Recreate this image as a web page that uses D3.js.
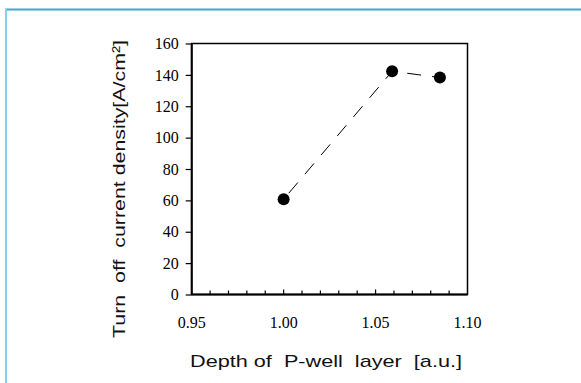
<!DOCTYPE html>
<html><head><meta charset="utf-8">
<script src="https://cdn.jsdelivr.net/npm/d3@7"></script>
<style>body{margin:0;background:#fff}svg{display:block}</style>
</head><body>
<script>
const depth = [1.00, 1.059, 1.085];
const current = [60.7, 142.3, 138.3];
const xTickValues = [0.95, 1.00, 1.05, 1.10];
const xTickLabels = ["0.95", "1.00", "1.05", "1.10"];
const yTickValues = [0, 20, 40, 60, 80, 100, 120, 140, 160];
const xTitle = "Depth of\u00a0\u00a0P-well\u00a0\u00a0layer\u00a0\u00a0[a.u.]";
const yTitle = "Turn\u00a0\u00a0off\u00a0\u00a0current density[A/cm\u00b2]";

const W = 581, H = 383;
const svg = d3.select("body").append("svg").attr("width", W).attr("height", H);

// frame border
svg.append("line").attr("x1",5).attr("x2",581).attr("y1",9.5).attr("y2",9.5).attr("stroke","#3aa9cc").attr("stroke-width",2);
svg.append("line").attr("x1",6).attr("x2",6).attr("y1",9).attr("y2",383).attr("stroke","#80d3ea").attr("stroke-width",2);

const x = d3.scaleLinear().domain([0.95, 1.10]).range([191.7, 467.5]);
const y = d3.scaleLinear().domain([0, 160]).range([294.5, 43.5]);

const g = svg.append("g");
// plot frame
g.append("rect").attr("x", x(0.95)).attr("y", y(160)).attr("width", x(1.10)-x(0.95)).attr("height", y(0)-y(160))
  .attr("fill","none").attr("stroke","#000").attr("stroke-width",1.5);
g.append("line").attr("x1",x(0.95)).attr("x2",x(0.95)).attr("y1",y(160)).attr("y2",y(0)).attr("stroke","#000").attr("stroke-width",2);
g.append("line").attr("x1",x(0.95)).attr("x2",x(1.10)).attr("y1",y(0)).attr("y2",y(0)).attr("stroke","#000").attr("stroke-width",2);

// y axis
const yAxis = d3.axisLeft(y).tickValues(yTickValues).tickSize(6).tickPadding(7).tickFormat(d3.format("d"));
const ya = g.append("g").attr("transform",`translate(${x(0.95)},0)`).call(yAxis);
ya.select(".domain").remove();
ya.selectAll("line").attr("stroke","#000").attr("stroke-width",1.2);
ya.selectAll("text").attr("font-family","'Liberation Serif', 'Times New Roman', serif").attr("font-size",16).attr("fill","#000");

// x axis: minor inward ticks
const minor = d3.range(0.96, 1.0999, 0.01);
g.selectAll(".xm").data(minor).join("line")
  .attr("x1", d=>x(d)).attr("x2", d=>x(d))
  .attr("y1", y(0)).attr("y2", d => y(0) - (Math.abs(Math.round(d*100)%5)===0 ? 5 : 4))
  .attr("stroke","#000").attr("stroke-width",1.2);
g.selectAll(".xl").data(xTickValues).join("text")
  .attr("x", d=>x(d)).attr("y", 328).attr("text-anchor","middle")
  .attr("font-family","'Liberation Serif', 'Times New Roman', serif").attr("font-size",16).attr("fill","#000")
  .text((d,i)=>xTickLabels[i]);

// data
const pts = depth.map((d,i)=>[d, current[i]]);
g.append("path").datum(pts)
  .attr("d", d3.line().x(d=>x(d[0])).y(d=>y(d[1])))
  .attr("fill","none").attr("stroke","#000").attr("stroke-width",1).attr("stroke-dasharray","14,11").attr("stroke-dashoffset",-8);
g.selectAll("circle").data(pts).join("circle")
  .attr("cx", d=>x(d[0])).attr("cy", d=>y(d[1])).attr("r",6).attr("fill","#000");

// titles
svg.append("text").attr("x", 190).attr("y", 367)
  .attr("textLength", 272).attr("lengthAdjust","spacingAndGlyphs")
  .attr("font-family","'Liberation Sans', Arial, sans-serif").attr("font-size",17).attr("fill","#111").text(xTitle);
svg.append("text").attr("transform","translate(125,338) rotate(-90)")
  .attr("textLength", 298).attr("lengthAdjust","spacingAndGlyphs")
  .attr("font-family","'Liberation Sans', Arial, sans-serif").attr("font-size",17).attr("fill","#111").text(yTitle);
</script>
</body></html>
